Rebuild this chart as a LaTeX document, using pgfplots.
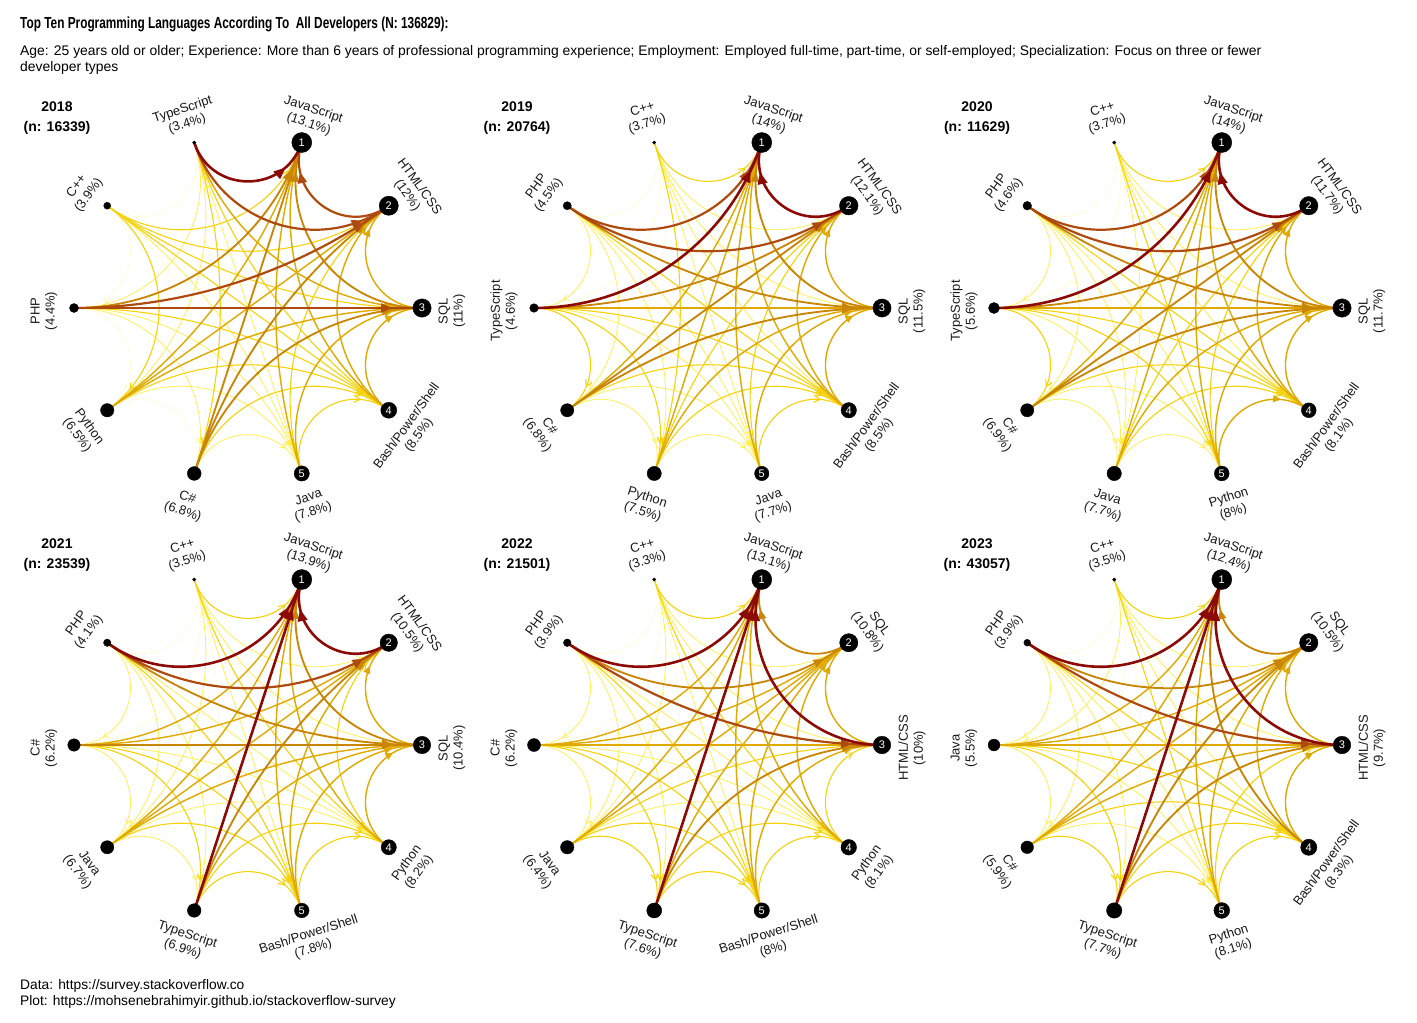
\documentclass[border=0pt]{standalone}
\usepackage{fontspec}
\setmainfont{Liberation Sans}
\newfontfamily\condfont{Liberation Sans}[FakeStretch=0.74]
\usepackage{pgfplots}
\pgfplotsset{compat=1.18}
\usetikzlibrary{arrows.meta,decorations.markings}

\definecolor{c0}{HTML}{FFF6A0}
\definecolor{c1}{HTML}{FFEC3A}
\definecolor{c2}{HTML}{F5D20A}
\definecolor{c3}{HTML}{E0A904}
\definecolor{c4}{HTML}{C98506}
\definecolor{c5}{HTML}{AE4A0E}
\definecolor{c6}{HTML}{8C0A05}

\tikzset{
  edge/.style n args={3}{color=#1, line width=#2, postaction={decorate},
     decoration={markings, mark=at position -30pt with {\arrow{#3}}}},
  lev0/.style={edge={c0}{0.45pt}{Straight Barb[length=3.5pt,width=4.5pt]}, opacity=0.6},
  lev1/.style={edge={c1}{0.8pt}{Straight Barb[length=5pt,width=6pt]}, opacity=0.85},
  lev2/.style={edge={c2}{1.1pt}{Straight Barb[length=6pt,width=7pt]}},
  lev3/.style={edge={c3}{1.45pt}{Triangle[length=8pt,width=7pt]}},
  lev4/.style={edge={c4}{1.85pt}{Triangle[length=10pt,width=8pt]}},
  lev5/.style={edge={c5}{2.2pt}{Triangle[length=11pt,width=9pt]}},
  lev6/.style={edge={c6}{2.6pt}{Triangle[length=12pt,width=9.5pt]}},
  lab/.style={font=\fontsize{13}{15}\selectfont, align=center, inner sep=0pt, text=black!90},
  numlab/.style={font=\fontsize{11}{12}\selectfont, text=white, inner sep=0pt},
  yr/.style={font=\bfseries\fontsize{14}{16}\selectfont, inner sep=0pt},
}

\pgfplotsset{
  panel/.style={x=1pt, y=1pt, xmin=-240, xmax=240, ymin=-225, ymax=225,
    hide axis, clip=false, anchor=origin},
  dots/.style={scatter, only marks, mark=*, point meta=explicit,
    scatter/use mapped color={draw=black,fill=black},
    visualization depends on={\thisrow{r}\as\rad},
    scatter/@pre marker code/.append style={/tikz/mark size=\rad pt}},
  nums/.style={draw=none, mark=none, nodes near coords, point meta=explicit symbolic,
    every node near coord/.append style={numlab, anchor=center}},
}

\def\nmJS{JavaScript}
\def\nmHT{HTML/CSS}
\def\nmSQ{SQL}
\def\nmBA{Bash/Power/Shell}
\def\nmJA{Java}
\def\nmCS{C\#}
\def\nmPY{Python}
\def\nmPH{PHP}
\def\nmCP{C++}
\def\nmTS{TypeScript}

% nodes (code/share %) in rank order
\def\nodesA{JS/13.1, HT/12, SQ/11, BA/8.5, JA/7.8, CS/6.8, PY/6.5, PH/4.4, CP/3.9, TS/3.4}
\def\nodesB{JS/14, HT/12.1, SQ/11.5, BA/8.5, JA/7.7, PY/7.5, CS/6.8, TS/4.6, PH/4.5, CP/3.7}
\def\nodesC{JS/14, HT/11.7, SQ/11.7, BA/8.1, PY/8, JA/7.7, CS/6.9, TS/5.6, PH/4.6, CP/3.7}
\def\nodesD{JS/13.9, HT/10.5, SQ/10.4, PY/8.2, BA/7.8, TS/6.9, JA/6.7, CS/6.2, PH/4.1, CP/3.5}
\def\nodesE{JS/13.1, SQ/10.8, HT/10, PY/8.1, BA/8, TS/7.6, JA/6.4, CS/6.2, PH/3.9, CP/3.3}
\def\nodesF{JS/12.4, SQ/10.5, HT/9.7, BA/8.3, PY/8.1, TS/7.7, CS/5.9, JA/5.5, PH/3.9, CP/3.5}

% edges: pair / strength level (0 faint ... 6 strongest)
\def\edgesA{JS/HT/5, JS/SQ/4, JS/BA/3, JS/JA/3, JS/CS/4, JS/PY/3, JS/PH/4, JS/CP/2, JS/TS/6,
HT/SQ/3, HT/BA/3, HT/JA/2, HT/CS/4, HT/PY/3, HT/PH/5, HT/CP/2, HT/TS/5,
SQ/BA/3, SQ/JA/3, SQ/CS/4, SQ/PY/3, SQ/PH/5, SQ/CP/2, SQ/TS/3,
BA/JA/2, BA/CS/2, BA/PY/2, BA/PH/2, BA/CP/2, BA/TS/2,
JA/CS/1, JA/PY/1, JA/PH/1, JA/CP/1, JA/TS/1,
CS/PY/0, CS/PH/1, CS/CP/0, CS/TS/2,
PY/PH/0, PY/CP/2, PY/TS/1,
PH/CP/0, PH/TS/1,
CP/TS/0}
\def\edgesB{JS/HT/6, JS/SQ/4, JS/BA/3, JS/JA/3, JS/CS/3, JS/PY/3, JS/PH/5, JS/CP/2, JS/TS/6,
HT/SQ/3, HT/BA/3, HT/JA/2, HT/CS/4, HT/PY/2, HT/PH/5, HT/CP/1, HT/TS/4,
SQ/BA/3, SQ/JA/3, SQ/CS/4, SQ/PY/3, SQ/PH/4, SQ/CP/1, SQ/TS/3,
BA/JA/2, BA/CS/2, BA/PY/2, BA/PH/2, BA/CP/1, BA/TS/2,
JA/CS/1, JA/PY/1, JA/PH/1, JA/CP/1, JA/TS/1,
CS/PY/1, CS/PH/1, CS/CP/0, CS/TS/2,
PY/PH/1, PY/CP/2, PY/TS/2,
PH/CP/0, PH/TS/1,
CP/TS/0}
\def\edgesC{JS/HT/6, JS/SQ/4, JS/BA/3, JS/JA/3, JS/CS/3, JS/PY/3, JS/PH/5, JS/CP/2, JS/TS/6,
HT/SQ/3, HT/BA/3, HT/JA/2, HT/CS/4, HT/PY/2, HT/PH/5, HT/CP/1, HT/TS/4,
SQ/BA/3, SQ/JA/3, SQ/CS/4, SQ/PY/3, SQ/PH/4, SQ/CP/1, SQ/TS/3,
BA/JA/2, BA/CS/2, BA/PY/3, BA/PH/2, BA/CP/1, BA/TS/2,
JA/CS/1, JA/PY/1, JA/PH/1, JA/CP/1, JA/TS/1,
CS/PY/1, CS/PH/1, CS/CP/0, CS/TS/2,
PY/PH/1, PY/CP/2, PY/TS/2,
PH/CP/0, PH/TS/1,
CP/TS/0}
\def\edgesD{JS/HT/6, JS/SQ/4, JS/BA/3, JS/JA/3, JS/CS/3, JS/PY/3, JS/PH/6, JS/CP/2, JS/TS/6,
HT/SQ/3, HT/BA/3, HT/JA/3, HT/CS/3, HT/PY/2, HT/PH/5, HT/CP/1, HT/TS/4,
SQ/BA/3, SQ/JA/3, SQ/CS/4, SQ/PY/3, SQ/PH/4, SQ/CP/1, SQ/TS/3,
BA/JA/2, BA/CS/2, BA/PY/2, BA/PH/2, BA/CP/1, BA/TS/2,
JA/CS/1, JA/PY/1, JA/PH/1, JA/CP/1, JA/TS/1,
CS/PY/1, CS/PH/1, CS/CP/0, CS/TS/2,
PY/PH/1, PY/CP/2, PY/TS/2,
PH/CP/0, PH/TS/1,
CP/TS/0}
\def\edgesE{JS/HT/6, JS/SQ/4, JS/BA/3, JS/JA/3, JS/CS/3, JS/PY/3, JS/PH/6, JS/CP/2, JS/TS/6,
HT/SQ/3, HT/BA/3, HT/JA/2, HT/CS/3, HT/PY/2, HT/PH/5, HT/CP/1, HT/TS/4,
SQ/BA/3, SQ/JA/3, SQ/CS/3, SQ/PY/3, SQ/PH/4, SQ/CP/1, SQ/TS/3,
BA/JA/2, BA/CS/2, BA/PY/2, BA/PH/2, BA/CP/1, BA/TS/2,
JA/CS/1, JA/PY/1, JA/PH/1, JA/CP/1, JA/TS/2,
CS/PY/1, CS/PH/1, CS/CP/0, CS/TS/2,
PY/PH/1, PY/CP/2, PY/TS/2,
PH/CP/0, PH/TS/1,
CP/TS/0}
\def\edgesF{JS/HT/6, JS/SQ/4, JS/BA/4, JS/JA/3, JS/CS/3, JS/PY/3, JS/PH/6, JS/CP/2, JS/TS/6,
HT/SQ/3, HT/BA/3, HT/JA/3, HT/CS/3, HT/PY/2, HT/PH/5, HT/CP/1, HT/TS/4,
SQ/BA/3, SQ/JA/3, SQ/CS/3, SQ/PY/3, SQ/PH/4, SQ/CP/1, SQ/TS/4,
BA/JA/2, BA/CS/2, BA/PY/2, BA/PH/2, BA/CP/1, BA/TS/2,
JA/CS/1, JA/PY/1, JA/PH/1, JA/CP/1, JA/TS/2,
CS/PY/1, CS/PH/1, CS/CP/0, CS/TS/2,
PY/PH/1, PY/CP/2, PY/TS/2,
PH/CP/0, PH/TS/1,
CP/TS/0}

\newcommand\setranks[1]{%
  \foreach \cd/\sh [count=\k] in #1 {\expandafter\xdef\csname rk@\cd\endcsname{\k}}}

\newcommand\drawedges[1]{%
 \foreach \lev in {0,...,6}{%
  \foreach \ea/\eb/\ew in #1 {%
   \ifnum\ew=\lev\relax
    \edef\ra{\csname rk@\ea\endcsname}%
    \edef\rb{\csname rk@\eb\endcsname}%
    \ifnum\ra>\rb\relax \let\rs\ra \let\rt\rb \else \let\rs\rb \let\rt\ra \fi
    \pgfmathsetmacro\sa{72-36*(\rs-1)}%
    \pgfmathsetmacro\ta{72-36*(\rt-1)}%
    \pgfmathtruncatemacro\sep{\rs-\rt}%
    \ifnum\sep>5\relax \pgfmathtruncatemacro\sep{10-\sep}\fi
    \ifcase\sep\relax \def\lo{1}\or \def\lo{1.3}\or \def\lo{1.07}\or \def\lo{0.94}\or \def\lo{0.87}\else \def\lo{1}\fi
    \pgfmathsetmacro\sx{174*cos(\sa)}%
    \pgfmathsetmacro\sy{174*sin(\sa)}%
    \pgfmathsetmacro\tx{174*cos(\ta)}%
    \pgfmathsetmacro\ty{174*sin(\ta)}%
    \pgfmathsetmacro\oa{\sa+180}%
    \pgfmathsetmacro\ia{\ta+180}%
    \edef\tmp{\noexpand\draw[lev\ew] (axis cs:\sx,\sy) to[out=\oa,in=\ia,looseness=\lo] (axis cs:\tx,\ty);}%
    \tmp
   \fi}}}

\newcommand\drawlabels[1]{%
 \foreach \cd/\sh [count=\k] in #1 {%
  \pgfmathsetmacro\an{72-36*(\k-1)}%
  \pgfmathsetmacro\an{\an<-179 ? \an+360 : \an}%
  \pgfmathsetmacro\rot{\an>0 ? \an-90 : \an+90}%
  \pgfmathsetmacro\lx{204*cos(\an)}%
  \pgfmathsetmacro\ly{204*sin(\an)-3}%
  \edef\tmp{\noexpand\node[lab, rotate=\rot] at (axis cs:\lx,\ly) {\noexpand\csname nm\cd\noexpand\endcsname\noexpand\\(\sh\noexpand\%)};}%
  \tmp}}

\newcommand\numplot{%
\addplot[nums] table[x=x,y=y,meta=n,row sep=\\]{
x y n\\
53.77 165.48 1\\
140.77 102.27 2\\
174 0 3\\
140.77 -102.27 4\\
53.77 -165.48 5\\
};}

\begin{document}
\begin{tikzpicture}
\path[use as bounding box] (0,0) rectangle (1417pt,-1023pt);

\node[anchor=base west, inner sep=0pt, font=\condfont\bfseries\fontsize{16}{18}\selectfont] at (20pt,-28pt)
  {Top Ten Programming Languages According To~ All Developers (N: 136829):};
\node[anchor=base west, inner sep=0pt, font=\fontsize{13.9}{16}\selectfont] at (20pt,-55pt)
  {Age: 25 years old or older; Experience: More than 6 years of professional programming experience; Employment: Employed full-time, part-time, or self-employed; Specialization: Focus on three or fewer};
\node[anchor=base west, inner sep=0pt, font=\fontsize{13.9}{16}\selectfont] at (20pt,-71pt)
  {developer types};
\node[anchor=base west, inner sep=0pt, font=\fontsize{13.8}{16}\selectfont] at (20pt,-989pt)
  {Data: https://survey.stackoverflow.co};
\node[anchor=base west, inner sep=0pt, font=\fontsize{13.8}{16}\selectfont] at (20pt,-1005pt)
  {Plot: https://mohsenebrahimyir.github.io/stackoverflow-survey};

% ---------------- 2018
\begin{axis}[panel, at={(248pt,-308pt)}]
\setranks{\nodesA}
\drawedges{\edgesA}
\addplot[dots] table[x=x,y=y,meta=r,row sep=\\]{
x y r\\
53.77 165.48 10\\
140.77 102.27 9.6\\
174 0 9.2\\
140.77 -102.27 8.0\\
53.77 -165.48 7.6\\
-53.77 -165.48 6.9\\
-140.77 -102.27 6.7\\
-174 0 4.5\\
-140.77 102.27 3.5\\
-53.77 165.48 1.7\\
};
\numplot
\drawlabels{\nodesA}
\node[yr] at (axis cs:-191,201) {2018};
\node[yr] at (axis cs:-191,180) {(n: 16339)};
\end{axis}

% ---------------- 2019
\begin{axis}[panel, at={(708pt,-308pt)}]
\setranks{\nodesB}
\drawedges{\edgesB}
\addplot[dots] table[x=x,y=y,meta=r,row sep=\\]{
x y r\\
53.77 165.48 10\\
140.77 102.27 9.3\\
174 0 9.1\\
140.77 -102.27 7.7\\
53.77 -165.48 7.2\\
-53.77 -165.48 7.1\\
-140.77 -102.27 6.6\\
-174 0 4.3\\
-140.77 102.27 4.1\\
-53.77 165.48 1.7\\
};
\numplot
\drawlabels{\nodesB}
\node[yr] at (axis cs:-191,201) {2019};
\node[yr] at (axis cs:-191,180) {(n: 20764)};
\end{axis}

% ---------------- 2020
\begin{axis}[panel, at={(1168pt,-308pt)}]
\setranks{\nodesC}
\drawedges{\edgesC}
\addplot[dots] table[x=x,y=y,meta=r,row sep=\\]{
x y r\\
53.77 165.48 10\\
140.77 102.27 9.2\\
174 0 9.2\\
140.77 -102.27 7.4\\
53.77 -165.48 7.4\\
-53.77 -165.48 7.2\\
-140.77 -102.27 6.6\\
-174 0 5.5\\
-140.77 102.27 4.3\\
-53.77 165.48 1.7\\
};
\numplot
\drawlabels{\nodesC}
\node[yr] at (axis cs:-191,201) {2020};
\node[yr] at (axis cs:-191,180) {(n: 11629)};
\end{axis}

% ---------------- 2021
\begin{axis}[panel, at={(248pt,-745pt)}]
\setranks{\nodesD}
\drawedges{\edgesD}
\addplot[dots] table[x=x,y=y,meta=r,row sep=\\]{
x y r\\
53.77 165.48 10\\
140.77 102.27 8.7\\
174 0 8.7\\
140.77 -102.27 7.6\\
53.77 -165.48 7.3\\
-53.77 -165.48 6.8\\
-140.77 -102.27 6.6\\
-174 0 6.2\\
-140.77 102.27 3.7\\
-53.77 165.48 1.7\\
};
\numplot
\drawlabels{\nodesD}
\node[yr] at (axis cs:-191,201) {2021};
\node[yr] at (axis cs:-191,180) {(n: 23539)};
\end{axis}

% ---------------- 2022
\begin{axis}[panel, at={(708pt,-745pt)}]
\setranks{\nodesE}
\drawedges{\edgesE}
\addplot[dots] table[x=x,y=y,meta=r,row sep=\\]{
x y r\\
53.77 165.48 10\\
140.77 102.27 9.1\\
174 0 8.8\\
140.77 -102.27 7.8\\
53.77 -165.48 7.7\\
-53.77 -165.48 7.5\\
-140.77 -102.27 6.7\\
-174 0 6.5\\
-140.77 102.27 3.8\\
-53.77 165.48 1.7\\
};
\numplot
\drawlabels{\nodesE}
\node[yr] at (axis cs:-191,201) {2022};
\node[yr] at (axis cs:-191,180) {(n: 21501)};
\end{axis}

% ---------------- 2023
\begin{axis}[panel, at={(1168pt,-745pt)}]
\setranks{\nodesF}
\drawedges{\edgesF}
\addplot[dots] table[x=x,y=y,meta=r,row sep=\\]{
x y r\\
53.77 165.48 10\\
140.77 102.27 9.2\\
174 0 8.8\\
140.77 -102.27 8.1\\
53.77 -165.48 7.9\\
-53.77 -165.48 7.7\\
-140.77 -102.27 6.3\\
-174 0 5.9\\
-140.77 102.27 3.4\\
-53.77 165.48 1.7\\
};
\numplot
\drawlabels{\nodesF}
\node[yr] at (axis cs:-191,201) {2023};
\node[yr] at (axis cs:-191,180) {(n: 43057)};
\end{axis}
\end{tikzpicture}
\end{document}
